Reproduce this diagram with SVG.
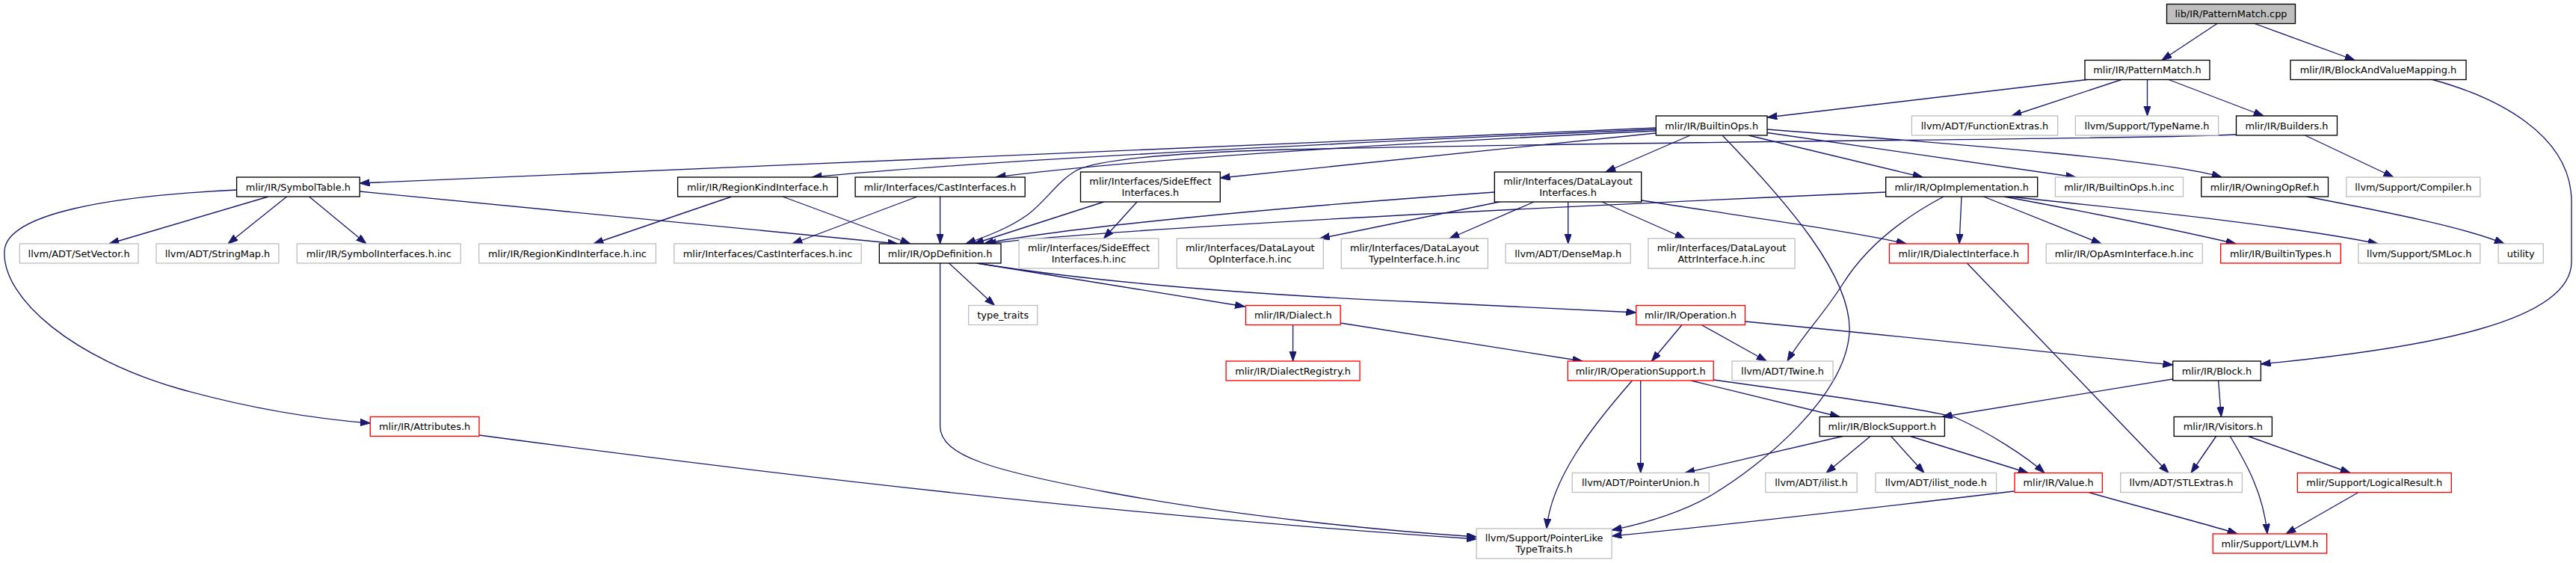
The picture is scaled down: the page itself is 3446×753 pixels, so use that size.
<svg xmlns="http://www.w3.org/2000/svg" width="3446" height="753" viewBox="0 0 3446 753">
<style>
.node rect{fill:#fff;stroke:#000;stroke-width:1.33}
.node.g rect{stroke:#bfbfbf}
.node.r rect{stroke:#ff0000}
.node.root rect{fill:#bfbfbf;stroke:#000}
.node text{font-family:"DejaVu Sans","Liberation Sans",sans-serif;font-size:12.9px;text-anchor:middle;fill:#000}
#edges path{fill:none;stroke:#191970;stroke-width:1.33;marker-end:url(#arr)}
</style>
<defs>
<marker id="arr" markerUnits="userSpaceOnUse" markerWidth="14" markerHeight="10" refX="13.3" refY="4.67" orient="auto">
<path d="M0,0 L13.3,4.67 L0,9.33 z" fill="#191970" stroke="#191970" stroke-width="1"/>
</marker>
</defs>
<rect x="0" y="0" width="3446" height="753" fill="#fff"/>
<g id="edges">
<path d="M2966,31.5 L2892,80.5"/>
<path d="M3016,31.5 L3150,80.5"/>
<path d="M2792,106.5 L2364,157"/>
<path d="M2838,106.5 L2691,155"/>
<path d="M2872.5,106.5 L2872.5,155"/>
<path d="M2901,106.5 L3028,155"/>
<path d="M3254,106.5 C3340,130 3440,180 3440,270 L3440,350 C3440,430 3250,465 3024.4,487"/>
<path d="M3083.5,181 L3202,237"/>
<path d="M2991.5,180 C2850,187 2300,187 1720,200 C1550,205 1465,215 1440,228 C1415,242 1400,268 1375,287 C1350,305 1320,316 1292,326"/>
<path d="M2215.3,171 L481.2,245"/>
<path d="M2215.3,173 C1700,195 1300,216 1086,237"/>
<path d="M2215.3,175 C1800,195 1500,215 1332,237"/>
<path d="M2215.3,178 L1632.3,238"/>
<path d="M2261,181 L2148,230"/>
<path d="M2339,181 L2572,237"/>
<path d="M2364,177.5 L2777,237"/>
<path d="M2364,173 C2650,195 2900,215 2972,237"/>
<path d="M2304,181 C2390,270 2478,370 2474,445 C2468,530 2360,620 2290,662 C2250,685 2200,700 2156.1,709"/>
<path d="M359,263 L146,326"/>
<path d="M383.6,263 L305,326"/>
<path d="M413.6,263 L490,326"/>
<path d="M481.2,256 L1201,326"/>
<path d="M316.6,254 C150,262 10,285 6,335 C2,400 100,480 240,520 C340,548 420,560 495.3,566"/>
<path d="M978.7,263 L794,326"/>
<path d="M1047,263 L1217.7,326"/>
<path d="M1227,263 L1060,326"/>
<path d="M1257.6,263 L1257.6,326"/>
<path d="M1521,270 L1476.6,319"/>
<path d="M1476.6,270 L1302.8,326"/>
<path d="M2006,270 L1765.5,319"/>
<path d="M2052,270 L1939,319"/>
<path d="M2097.7,270 L2097.7,326"/>
<path d="M2143,270 L2254,319"/>
<path d="M1999.3,257 C1700,278 1420,305 1316,326"/>
<path d="M2522.7,257 C2000,280 1500,305 1319,326"/>
<path d="M2195.7,268 C2350,292 2480,310 2550,326"/>
<path d="M2624,263 L2621,326"/>
<path d="M2653.6,263 L2811,326"/>
<path d="M2681,263 C2800,285 2900,305 2991,326"/>
<path d="M2683,262.5 C2900,285 3080,305 3181,326"/>
<path d="M2600,263 C2530,300 2490,340 2465,380 C2440,420 2410,450 2391,483"/>
<path d="M3086,263 C3200,285 3300,305 3350,326"/>
<path d="M1269.5,352 L1330.5,408.5"/>
<path d="M1306.5,352 L1665.3,410"/>
<path d="M1307,352 C1450,375 1650,393 1900,404 C2020,409 2120,414 2188.7,418"/>
<path d="M1257.6,352 L1257.6,570 C1257.6,610 1330,630 1480,658 C1650,690 1850,710 1975.2,718"/>
<path d="M641,582 C1000,630 1500,690 1975.2,721"/>
<path d="M1729.6,434.5 L1729.6,483"/>
<path d="M1793.2,432 L2117,483"/>
<path d="M2250,434.5 L2209.4,483"/>
<path d="M2276,434.5 L2363.2,483"/>
<path d="M2334.4,430 C2600,455 2800,478 2906.7,488"/>
<path d="M2262,509 L2461,557.5"/>
<path d="M2292,508 C2450,530 2580,548 2615,558 C2660,578 2710,610 2735,632.5"/>
<path d="M2194.7,509 L2194.7,632.5"/>
<path d="M2183.5,509 C2130,570 2075,640 2069,707"/>
<path d="M2906.7,507 L2598,557.5"/>
<path d="M2967.6,509 L2971.4,557.5"/>
<path d="M2465,583.5 L2254,632.5"/>
<path d="M2502,583.5 L2443,632.5"/>
<path d="M2529.7,583.5 L2574,632.5"/>
<path d="M2555.6,583.5 L2713,632.5"/>
<path d="M2631.4,352 L2901,632.5"/>
<path d="M2964.6,583.5 L2931,632.5"/>
<path d="M2983.3,583.5 C3005,620 3028,660 3033,714"/>
<path d="M3007.6,583.5 L3144,632.5"/>
<path d="M3155,658.5 L3058,714"/>
<path d="M2794,658.5 C2850,675 2950,700 2993,714"/>
<path d="M2694.3,657 C2500,680 2280,705 2156.1,717"/>
</g>
<g id="n0" class="node root"><rect x="2898.5" y="5.5" width="172" height="26"/><text x="2984.5" y="23">lib/IR/PatternMatch.cpp</text></g>
<g id="n1" class="node"><rect x="2789" y="80.5" width="167" height="26"/><text x="2872.5" y="98">mlir/IR/PatternMatch.h</text></g>
<g id="n2" class="node"><rect x="3064" y="80.5" width="235" height="26"/><text x="3181.5" y="98">mlir/IR/BlockAndValueMapping.h</text></g>
<g id="n3" class="node"><rect x="2215.3" y="155" width="148.7" height="26"/><text x="2289.7" y="172.5">mlir/IR/BuiltinOps.h</text></g>
<g id="n4" class="node g"><rect x="2557.4" y="155" width="195.3" height="26"/><text x="2655" y="172.5">llvm/ADT/FunctionExtras.h</text></g>
<g id="n5" class="node g"><rect x="2776.4" y="155" width="191.2" height="26"/><text x="2872" y="172.5">llvm/Support/TypeName.h</text></g>
<g id="n6" class="node"><rect x="2991.5" y="155" width="135" height="26"/><text x="3059" y="172.5">mlir/IR/Builders.h</text></g>
<g id="n7" class="node"><rect x="316.6" y="237" width="164.6" height="26"/><text x="398.9" y="254.5">mlir/IR/SymbolTable.h</text></g>
<g id="n8" class="node"><rect x="906.6" y="237" width="213.8" height="26"/><text x="1013.5" y="254.5">mlir/IR/RegionKindInterface.h</text></g>
<g id="n9" class="node"><rect x="1144.1" y="237" width="227.1" height="26"/><text x="1257.6" y="254.5">mlir/Interfaces/CastInterfaces.h</text></g>
<g id="n10" class="node"><rect x="1445.5" y="230" width="186.8" height="40"/><text x="1538.9" y="246.5">mlir/Interfaces/SideEffect</text><text x="1538.9" y="261.5">Interfaces.h</text></g>
<g id="n11" class="node"><rect x="1999.3" y="230" width="196.4" height="40"/><text x="2097.5" y="246.5">mlir/Interfaces/DataLayout</text><text x="2097.5" y="261.5">Interfaces.h</text></g>
<g id="n12" class="node"><rect x="2522.7" y="237" width="203" height="26"/><text x="2624.2" y="254.5">mlir/IR/OpImplementation.h</text></g>
<g id="n13" class="node g"><rect x="2749.4" y="237" width="171.1" height="26"/><text x="2835" y="254.5">mlir/IR/BuiltinOps.h.inc</text></g>
<g id="n14" class="node"><rect x="2944.8" y="237" width="169.7" height="26"/><text x="3029.6" y="254.5">mlir/IR/OwningOpRef.h</text></g>
<g id="n15" class="node g"><rect x="3138.8" y="237" width="179" height="26"/><text x="3228.3" y="254.5">llvm/Support/Compiler.h</text></g>
<g id="n16" class="node g"><rect x="26.3" y="326" width="158.7" height="26"/><text x="105.6" y="343.5">llvm/ADT/SetVector.h</text></g>
<g id="n17" class="node g"><rect x="209" y="326" width="163.9" height="26"/><text x="291" y="343.5">llvm/ADT/StringMap.h</text></g>
<g id="n18" class="node g"><rect x="397.3" y="326" width="218.9" height="26"/><text x="506.7" y="343.5">mlir/IR/SymbolInterfaces.h.inc</text></g>
<g id="n19" class="node g"><rect x="640.7" y="326" width="236.7" height="26"/><text x="759" y="343.5">mlir/IR/RegionKindInterface.h.inc</text></g>
<g id="n20" class="node g"><rect x="901.8" y="326" width="250.4" height="26"/><text x="1027" y="343.5">mlir/Interfaces/CastInterfaces.h.inc</text></g>
<g id="n21" class="node"><rect x="1176.3" y="326" width="162.7" height="26"/><text x="1257.6" y="343.5">mlir/IR/OpDefinition.h</text></g>
<g id="n22" class="node g"><rect x="1363.1" y="319" width="186.8" height="40"/><text x="1456.5" y="335.5">mlir/Interfaces/SideEffect</text><text x="1456.5" y="350.5">Interfaces.h.inc</text></g>
<g id="n23" class="node g"><rect x="1574.3" y="319" width="196" height="40"/><text x="1672.3" y="335.5">mlir/Interfaces/DataLayout</text><text x="1672.3" y="350.5">OpInterface.h.inc</text></g>
<g id="n24" class="node g"><rect x="1794.3" y="319" width="196.1" height="40"/><text x="1892.3" y="335.5">mlir/Interfaces/DataLayout</text><text x="1892.3" y="350.5">TypeInterface.h.inc</text></g>
<g id="n25" class="node g"><rect x="2014.1" y="326" width="167.2" height="26"/><text x="2097.7" y="343.5">llvm/ADT/DenseMap.h</text></g>
<g id="n26" class="node g"><rect x="2204.9" y="319" width="196.1" height="40"/><text x="2303" y="335.5">mlir/Interfaces/DataLayout</text><text x="2303" y="350.5">AttrInterface.h.inc</text></g>
<g id="n27" class="node r"><rect x="2527.5" y="326" width="185.7" height="26"/><text x="2620.3" y="343.5">mlir/IR/DialectInterface.h</text></g>
<g id="n28" class="node g"><rect x="2737.2" y="326" width="209.1" height="26"/><text x="2841.7" y="343.5">mlir/IR/OpAsmInterface.h.inc</text></g>
<g id="n29" class="node r"><rect x="2970.6" y="326" width="160.7" height="26"/><text x="3051" y="343.5">mlir/IR/BuiltinTypes.h</text></g>
<g id="n30" class="node g"><rect x="3154.9" y="326" width="162.9" height="26"/><text x="3236.3" y="343.5">llvm/Support/SMLoc.h</text></g>
<g id="n31" class="node g"><rect x="3342.1" y="326" width="60.2" height="26"/><text x="3372.2" y="343.5">utility</text></g>
<g id="n32" class="node g"><rect x="1295.7" y="408.5" width="92.1" height="26"/><text x="1341.7" y="426">type_traits</text></g>
<g id="n33" class="node r"><rect x="1666.4" y="408.5" width="126.8" height="26"/><text x="1729.8" y="426">mlir/IR/Dialect.h</text></g>
<g id="n34" class="node r"><rect x="2188.7" y="408.5" width="145.7" height="26"/><text x="2261.5" y="426">mlir/IR/Operation.h</text></g>
<g id="n35" class="node r"><rect x="1640.1" y="483" width="179" height="26"/><text x="1729.6" y="500.5">mlir/IR/DialectRegistry.h</text></g>
<g id="n36" class="node r"><rect x="2097.3" y="483" width="194.9" height="26"/><text x="2194.7" y="500.5">mlir/IR/OperationSupport.h</text></g>
<g id="n37" class="node g"><rect x="2317" y="483" width="135" height="26"/><text x="2384.5" y="500.5">llvm/ADT/Twine.h</text></g>
<g id="n38" class="node"><rect x="2906.7" y="483" width="117.7" height="26"/><text x="2965.5" y="500.5">mlir/IR/Block.h</text></g>
<g id="n39" class="node r"><rect x="495.3" y="557.5" width="145.7" height="26"/><text x="568.1" y="575">mlir/IR/Attributes.h</text></g>
<g id="n40" class="node"><rect x="2434.2" y="557.5" width="167.2" height="26"/><text x="2517.8" y="575">mlir/IR/BlockSupport.h</text></g>
<g id="n41" class="node"><rect x="2908.2" y="557.5" width="131.2" height="26"/><text x="2973.8" y="575">mlir/IR/Visitors.h</text></g>
<g id="n42" class="node g"><rect x="2103.2" y="632.5" width="183.1" height="26"/><text x="2194.7" y="650">llvm/ADT/PointerUnion.h</text></g>
<g id="n43" class="node g"><rect x="2361.7" y="632.5" width="122.5" height="26"/><text x="2423" y="650">llvm/ADT/ilist.h</text></g>
<g id="n44" class="node g"><rect x="2509" y="632.5" width="161.6" height="26"/><text x="2589.8" y="650">llvm/ADT/ilist_node.h</text></g>
<g id="n45" class="node r"><rect x="2695" y="632.5" width="117.3" height="26"/><text x="2753.6" y="650">mlir/IR/Value.h</text></g>
<g id="n46" class="node g"><rect x="2836.7" y="632.5" width="162.7" height="26"/><text x="2918" y="650">llvm/ADT/STLExtras.h</text></g>
<g id="n47" class="node r"><rect x="3073.4" y="632.5" width="205.9" height="26"/><text x="3176.3" y="650">mlir/Support/LogicalResult.h</text></g>
<g id="n48" class="node g"><rect x="1975.2" y="707" width="180.9" height="40"/><text x="2065.6" y="723.5">llvm/Support/PointerLike</text><text x="2065.6" y="738.5">TypeTraits.h</text></g>
<g id="n49" class="node r"><rect x="2960.2" y="714" width="152.4" height="26"/><text x="3036.4" y="731.5">mlir/Support/LLVM.h</text></g>
</svg>
